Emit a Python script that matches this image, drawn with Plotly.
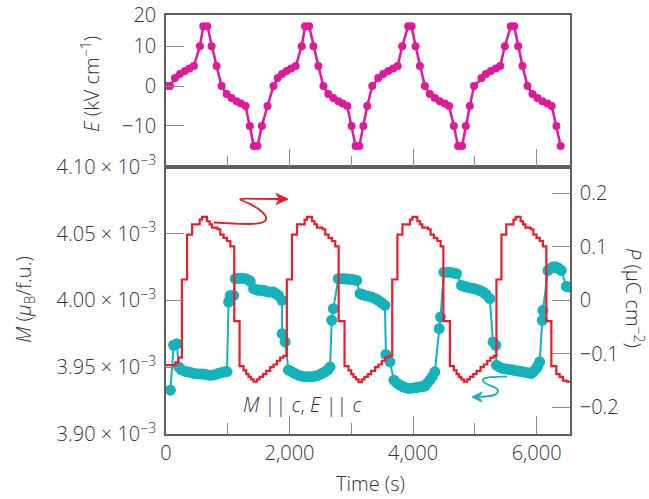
import plotly.graph_objects as go

# ---------------- data ----------------
# Electric field E (kV/cm) vs time (s)
e_time = [0, 65, 145, 226, 307, 378, 452, 549, 604, 669, 738, 819, 900, 981, 1061, 1142, 1212, 1288, 1357, 1422, 1481, 1552, 1643,
          1740, 1808, 1880, 1953, 2026, 2100, 2197, 2252, 2317, 2386, 2467, 2548, 2628, 2709, 2790, 2859, 2935, 3005, 3069, 3129, 3194, 3258, 3339,
          3436, 3517, 3598, 3678, 3750, 3824, 3921, 3976, 4040, 4110, 4191, 4271, 4352, 4433, 4514, 4583, 4659, 4729, 4793, 4853, 4918, 4987,
          5107, 5178, 5259, 5339, 5410, 5485, 5582, 5636, 5701, 5771, 5852, 5933, 6013, 6094, 6175, 6244, 6320, 6389, 6485]
e_field = [0, 0, 2, 3, 3.8, 4.4, 5, 10, 15, 15, 10, 5, 0, -2, -3, -3.8, -4.4, -5, -10, -15, -15, -10, -5,
           0, 2, 3, 3.8, 4.4, 5, 10, 15, 15, 10, 5, 0, -2, -3, -3.8, -4.4, -5, -10, -15, -15, -10, -5,
           0, 2, 3, 3.8, 4.4, 5, 10, 15, 15, 10, 5, 0, -2, -3, -3.8, -4.4, -5, -10, -15, -15, -10, -5,
           0, 2, 3, 3.8, 4.4, 5, 10, 15, 15, 10, 5, 0, -2, -3, -3.8, -4.4, -5, -10, -15]

# Polarization P (uC/cm^2), staircase
p_time = [0, 152, 200,
          257, 341, 422, 545, 583, 664, 706, 745, 835, 879, 932, 987, 1041, 1105, 1191, 1255, 1299, 1336, 1375, 1417, 1472, 1514, 1569, 1622, 1687, 1740, 1795, 1848, 1902,
          1956, 2040, 2121, 2244, 2282, 2363, 2405, 2444, 2534, 2578, 2631, 2686, 2740, 2795, 2890, 2954, 2998, 3035, 3074, 3116, 3171, 3213, 3268, 3321, 3386, 3439, 3494, 3547, 3601,
          3662, 3746, 3827, 3950, 3988, 4069, 4111, 4150, 4240, 4284, 4337, 4392, 4446, 4490, 4596, 4660, 4704, 4741, 4780, 4822, 4877, 4919, 4974, 5027, 5092, 5145, 5200, 5253, 5307,
          5349, 5430, 5508, 5625, 5662, 5740, 5780, 5818, 5905, 5947, 5998, 6050, 6102, 6157, 6238, 6318, 6372, 6425, 6485, 6540]
p_val = [-0.121, -0.116, -0.107,
         0.039, 0.123, 0.142, 0.151, 0.156, 0.148, 0.142, 0.136, 0.133, 0.123, 0.117, 0.111, 0.101, -0.039, -0.123, -0.131, -0.138, -0.143, -0.148, -0.152, -0.148, -0.143, -0.138, -0.132, -0.125, -0.120, -0.113, -0.107, -0.104,
         0.039, 0.123, 0.142, 0.151, 0.156, 0.148, 0.142, 0.136, 0.133, 0.123, 0.117, 0.111, 0.101, -0.039, -0.123, -0.131, -0.138, -0.143, -0.148, -0.153, -0.148, -0.143, -0.138, -0.132, -0.125, -0.120, -0.113, -0.107, -0.104,
         0.039, 0.123, 0.142, 0.151, 0.156, 0.148, 0.142, 0.136, 0.133, 0.123, 0.117, 0.111, 0.101, -0.039, -0.123, -0.131, -0.138, -0.143, -0.148, -0.152, -0.148, -0.143, -0.138, -0.132, -0.125, -0.120, -0.113, -0.107, -0.104,
         0.039, 0.123, 0.142, 0.151, 0.156, 0.148, 0.142, 0.136, 0.133, 0.123, 0.117, 0.111, 0.101, -0.039, -0.123, -0.138, -0.143, -0.150, -0.152, -0.152]

# Magnetization M (10^-3 muB/f.u.)
m_time = [71, 124, 176, 205, 250, 300, 350, 400, 450, 500, 550, 600, 650, 700, 750, 800, 850, 900, 950, 987,
          1013, 1040, 1094, 1121, 1160, 1202, 1245, 1283, 1325, 1363, 1417, 1460, 1498, 1540, 1578, 1620, 1659, 1700, 1740, 1780, 1821, 1876,
          1880, 1929, 1982, 2037, 2090, 2144, 2200, 2252, 2305, 2360, 2415, 2467, 2520, 2575, 2620, 2656,
          2683, 2709, 2790, 2845, 2890, 2926, 2965, 3006, 3050, 3087, 3141, 3180, 3221, 3275, 3330, 3385, 3436, 3490, 3544,
          3560, 3625, 3690, 3740, 3787, 3830, 3875, 3921, 3965, 4010, 4056, 4100, 4145, 4191, 4230, 4271, 4310, 4352,
          4422, 4444, 4498, 4545, 4595, 4650, 4703, 4784, 4825, 4864, 4910, 4955, 4998, 5045, 5090, 5132, 5180, 5241,
          5294, 5338, 5349, 5400, 5456, 5510, 5565, 5617, 5670, 5725, 5779, 5825, 5870, 5914, 5955, 5995, 6020, 6049,
          6092, 6102, 6183, 6225, 6263, 6290, 6318, 6360, 6399, 6480, 6549]
m_val = [3.9328, 3.9664, 3.9675, 3.9502, 3.9480, 3.9470, 3.9465, 3.9460, 3.9453, 3.9450, 3.9448, 3.9448, 3.9445, 3.9440, 3.9440, 3.9445, 3.9453, 3.9460, 3.9465, 3.9467,
         3.9987, 4.0037, 4.0037, 4.0162, 4.0165, 4.0166, 4.0164, 4.0162, 4.0155, 4.0142, 4.0087, 4.0080, 4.0075, 4.0075, 4.0075, 4.0068, 4.0062, 4.0062, 4.0062, 4.0050, 4.0037, 4.0000,
         3.9751, 3.9689, 3.9478, 3.9465, 3.9452, 3.9440, 3.9433, 3.9428, 3.9428, 3.9428, 3.9433, 3.9440, 3.9452, 3.9465, 3.9480, 3.9502,
         3.9851, 3.9938, 4.0162, 4.0162, 4.0161, 4.0160, 4.0158, 4.0157, 4.0153, 4.0149, 4.0050, 4.0043, 4.0037, 4.0031, 4.0025, 4.0013, 4.0000, 3.9982, 3.9963,
         3.9595, 3.9540, 3.9403, 3.9380, 3.9366, 3.9355, 3.9347, 3.9341, 3.9343, 3.9345, 3.9348, 3.9352, 3.9355, 3.9358, 3.9380, 3.9403, 3.9430, 3.9465,
         3.9789, 3.9875, 4.0211, 4.0211, 4.0211, 4.0205, 4.0199, 4.0112, 4.0105, 4.0099, 4.0095, 4.0091, 4.0087, 4.0080, 4.0071, 4.0062, 4.0045, 4.0013,
         3.9689, 3.9664, 3.9515, 3.9500, 3.9490, 3.9486, 3.9482, 3.9478, 3.9473, 3.9469, 3.9465, 3.9461, 3.9457, 3.9453, 3.9470, 3.9490, 3.9510, 3.9540,
         3.9851, 3.9925, 4.0224, 4.0240, 4.0249, 4.0249, 4.0249, 4.0238, 4.0224, 4.0104, 4.0097]

x_tickvals = [0, 2000, 4000, 6000]
x_ticktext = ["0", "2,000", "4,000", "6,000"]
x_minor = [1000, 3000, 5000]
m_tickvals = [3.90, 3.95, 4.00, 4.05, 4.10]
m_ticktext = ["3.90 × 10<sup>−3</sup>", "3.95 × 10<sup>−3</sup>", "4.00 × 10<sup>−3</sup>",
              "4.05 × 10<sup>−3</sup>", "4.10 × 10<sup>−3</sup>"]
p_tickvals = [-0.2, -0.1, 0, 0.1, 0.2]
p_ticktext = ["−0.2", "−0.1", "0", "0.1", "0.2"]
e_tickvals = [-10, 0, 10, 17.8]
e_ticktext = ["−10", "0", "10", "20"]

# ---------------- style ----------------
MAG = "#e0189a"
RED = "#ee1c2a"
CYAN = "#14b2bb"
AX = "#5e5e5e"
TK = "#8a8a8a"
TXT = "#333333"
FONT = "Open Sans"
WT = 300

W, H = 649, 499
ML, MR, MT, MB = 166, 79, 15, 65
PW, PH = W - ML - MR, H - MT - MB
SPLIT = (434 - 166.7) / PH


def px(x, y):
    return (x - ML) / PW, (H - MB - y) / PH


def path(pts, close=False):
    s = ""
    for cmd, p in pts:
        s += cmd + " " + " ".join("%.5f,%.5f" % px(*q) for q in p) + " "
    return s + ("Z" if close else "")


fig = go.Figure()
fig.add_trace(go.Scatter(x=e_time, y=e_field, xaxis="x2", yaxis="y2", mode="lines+markers",
                         line=dict(color=MAG, width=2.5), marker=dict(color=MAG, size=8),
                         showlegend=False))
fig.add_trace(go.Scatter(x=m_time, y=m_val, xaxis="x", yaxis="y", mode="lines+markers",
                         line=dict(color=CYAN, width=2), marker=dict(color=CYAN, size=11),
                         showlegend=False))
fig.add_trace(go.Scatter(x=p_time, y=p_val, xaxis="x", yaxis="y3", mode="lines",
                         line=dict(color=RED, width=2.2, shape="hv"), showlegend=False))

tickfont = dict(family=FONT, size=20, color=TXT, weight=WT)
common_x = dict(range=[0, 6540], showgrid=False, zeroline=False, showline=True, mirror=True,
                linecolor=AX, linewidth=1.5, ticks="inside", ticklen=18, tickcolor=TK, tickwidth=1.3,
                tickmode="array", tickvals=x_tickvals, automargin=False,
                minor=dict(tickmode="array", tickvals=x_minor, ticks="inside", ticklen=11,
                           tickcolor=TK, tickwidth=1.3, showgrid=False))
common_y = dict(showgrid=False, zeroline=False, showline=True, linecolor=AX, linewidth=1.5,
                ticks="inside", ticklen=18, tickcolor=TK, tickwidth=1.3, ticklabelstandoff=4,
                tickmode="array", tickfont=tickfont, automargin=False)

fig.update_layout(
    width=W, height=H, margin=dict(l=ML, r=MR, t=MT, b=MB, autoexpand=False),
    paper_bgcolor="white", plot_bgcolor="white",
    font=dict(family=FONT, size=20, color=TXT, weight=WT),
    xaxis=dict(domain=[0, 1], anchor="y", ticktext=x_ticktext, tickfont=tickfont,
               ticklabelstandoff=0, **common_x),
    xaxis2=dict(domain=[0, 1], anchor="y2", matches="x", showticklabels=False, **common_x),
    yaxis=dict(domain=[0, SPLIT], anchor="x", range=[3.90, 4.10],
               tickvals=m_tickvals, ticktext=m_ticktext, **common_y),
    yaxis3=dict(overlaying="y", side="right", anchor="x", range=[-0.25, 0.25],
                tickvals=p_tickvals, ticktext=p_ticktext, **common_y),
    yaxis2=dict(domain=[SPLIT, 1], anchor="x2", range=[-20.2, 17.8], mirror=True,
                tickvals=e_tickvals, ticktext=e_ticktext, **common_y),
)

# axis titles as annotations
ann = []
tf = dict(family=FONT, size=20, color=TXT, weight=WT)
x, y = px(91, 84)
ann.append(dict(text="<i>E</i> (kV cm<sup>−1</sup>)", x=x, y=y, xref="paper", yref="paper",
                textangle=-90, showarrow=False, font=tf, xanchor="center", yanchor="middle"))
x, y = px(24, 300)
ann.append(dict(text="<i>M</i> (<i>μ</i><sub>B</sub>/f.u.)", x=x, y=y, xref="paper", yref="paper",
                textangle=-90, showarrow=False, font=tf, xanchor="center", yanchor="middle"))
x, y = px(634, 298)
ann.append(dict(text="<i>P</i> (μC cm<sup>−2</sup>)", x=x, y=y, xref="paper", yref="paper",
                textangle=90, showarrow=False, font=tf, xanchor="center", yanchor="middle"))
x, y = px(370, 483)
ann.append(dict(text="Time (s)", x=x, y=y, xref="paper", yref="paper",
                showarrow=False, font=tf, xanchor="center", yanchor="middle"))
x, y = px(303, 404)
ann.append(dict(text="<i>M</i> || <i>c</i>, <i>E</i> || <i>c</i>", x=x, y=y, xref="paper", yref="paper",
                showarrow=False, font=tf, xanchor="center", yanchor="middle"))
fig.update_layout(annotations=ann)

# decorative squiggle arrows
red_path = path([("M", [(214, 222.5)]),
                 ("C", [(236, 223.5), (258, 226), (265, 221)]),
                 ("C", [(271, 215), (252, 204), (242, 200.5)]),
                 ("C", [(236, 198.5), (246, 198.5), (256, 198.8)]),
                 ("L", [(279, 199)])])
red_head = path([("M", [(288, 199)]), ("L", [(276, 193.5)]), ("L", [(279.5, 199)]), ("L", [(276, 204.5)])], close=True)
cy_path = path([("M", [(507, 376.5)]),
                ("C", [(495, 377), (481, 376.5), (483, 381)]),
                ("C", [(485, 385.5), (499, 386.5), (498, 391.5)]),
                ("C", [(497, 395.5), (487, 396.8), (480, 396.8)])])
cy_head = path([("M", [(472, 397)]), ("L", [(482, 392)]), ("L", [(479, 397)]), ("L", [(482, 402)])], close=True)
fig.update_layout(shapes=[
    dict(type="path", path=red_path, xref="paper", yref="paper", line=dict(color=RED, width=1.8)),
    dict(type="path", path=red_head, xref="paper", yref="paper", line=dict(color=RED, width=1), fillcolor=RED),
    dict(type="path", path=cy_path, xref="paper", yref="paper", line=dict(color=CYAN, width=1.8)),
    dict(type="path", path=cy_head, xref="paper", yref="paper", line=dict(color=CYAN, width=1), fillcolor=CYAN),
])

fig.write_html("out.html")
